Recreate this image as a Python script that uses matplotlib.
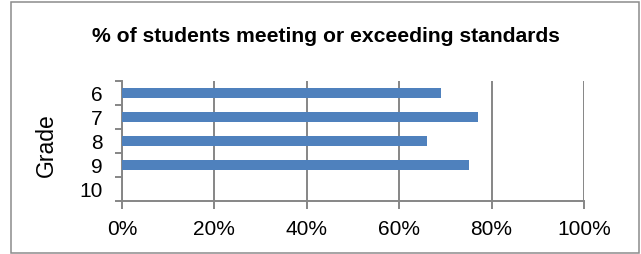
import numpy as np
import matplotlib
matplotlib.use("Agg")
import matplotlib.pyplot as plt
from matplotlib.patches import Rectangle
from matplotlib.ticker import FixedLocator, PercentFormatter

plt.rcParams['font.family'] = ['Liberation Sans', 'DejaVu Sans']

grades = ['6', '7', '8', '9', '10']
pct_meeting = [69, 77, 66, 75, 0]
x_ticks = [0, 20, 40, 60, 80, 100]

title = '% of students meeting or exceeding standards'
bar_col = '#4f81bd'
gray = '#868686'

fig = plt.figure(figsize=(6.41, 2.55), dpi=100)
fig.patch.set_facecolor('white')

# outer chart frame (like the Excel chart area border)
fig.patches.append(Rectangle((11/641, 1.5/255), 628/641, 251/255, transform=fig.transFigure,
                             fill=False, edgecolor='#8c8c8c', linewidth=1.1))

ax = fig.add_axes([122/641, 53/255, 462/641, 120/255])
ypos = np.arange(len(grades))
ax.barh(ypos, pct_meeting, height=0.4, color=bar_col, linewidth=0, zorder=3)

ax.set_xlim(0, 100)
ax.set_ylim(len(grades) - 0.5, -0.5)

ax.set_xticks(x_ticks)
ax.xaxis.set_major_formatter(PercentFormatter(decimals=0))
ax.grid(axis='x', color=gray, linewidth=1.4, zorder=0)

# ticks at category boundaries, labels centered in the bands
ax.yaxis.set_major_locator(FixedLocator(np.arange(-0.5, len(grades), 1.0)))
ax.set_yticklabels([])
ax.set_yticks(ypos, minor=True)
ax.set_yticklabels(grades, minor=True)
ax.tick_params(axis='y', which='major', length=5, width=1.4, color=gray, direction='out')
ax.tick_params(axis='y', which='minor', length=0, pad=14, labelsize=15)
ax.tick_params(axis='x', length=6, width=1.4, color=gray, direction='out', labelsize=15, pad=7)

for s in ['top', 'right']:
    ax.spines[s].set_visible(False)
for s in ['left', 'bottom']:
    ax.spines[s].set_color(gray)
    ax.spines[s].set_linewidth(1.4)

fig.text(46/641, 1 - 145/255, 'Grade', rotation=90, fontsize=16.5, ha='center', va='center')
fig.text(326/641, 1 - 37/255, title, fontsize=15.2, fontweight='bold', ha='center', va='center')

fig.savefig('out.png', dpi=100)
